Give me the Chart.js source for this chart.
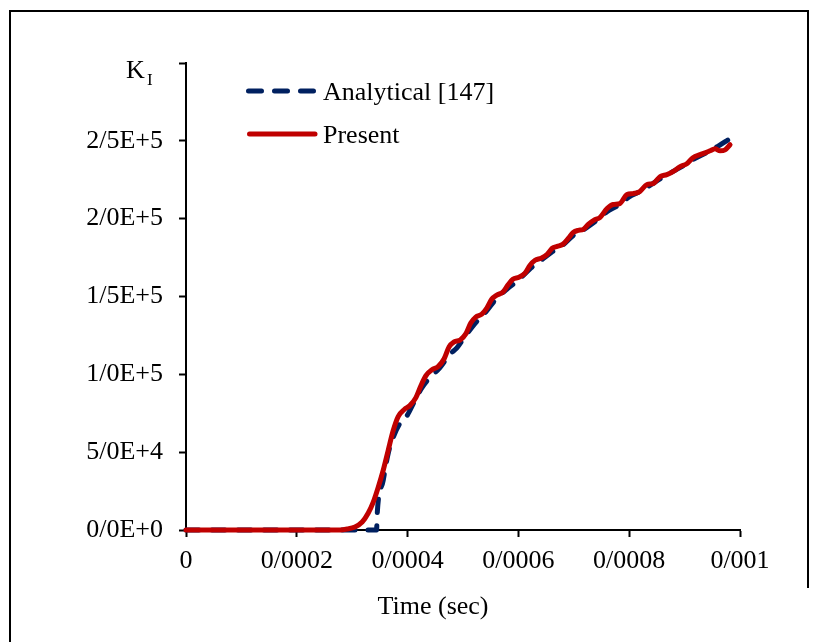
<!DOCTYPE html>
<html>
<head>
<meta charset="utf-8">
<script src="https://cdn.jsdelivr.net/npm/chart.js@4.4.1/dist/chart.umd.min.js"></script>
<style>
  html, body { margin: 0; padding: 0; background: #fff; }
  #wrap { width: 819px; height: 642px; }
</style>
</head>
<body>
<div id="wrap"><canvas id="kiChart" width="819" height="642"></canvas></div>
<script>
// data
const timePresent = [0, 0.000278, 0.000291, 0.000305, 0.000318, 0.000329, 0.000338, 0.000347, 0.000356, 0.000365,
  0.000374, 0.000383, 0.000394, 0.000404, 0.000415, 0.000424, 0.000433, 0.000444, 0.000455, 0.000466,
  0.000475, 0.000484, 0.000495, 0.000505, 0.000514, 0.000523, 0.000534, 0.000543, 0.000552, 0.000561,
  0.000572, 0.000581, 0.000590, 0.000601, 0.000612, 0.000621, 0.000630, 0.000641, 0.000652, 0.000661,
  0.000670, 0.000680, 0.000690, 0.000699, 0.000708, 0.000717, 0.000726, 0.000738, 0.000747, 0.000760,
  0.000771, 0.000783, 0.000796, 0.000807, 0.000819, 0.000832, 0.000843, 0.000856, 0.000868, 0.000879,
  0.000892, 0.000904, 0.000915, 0.000928, 0.000937, 0.000946, 0.000955, 0.000964, 0.000973, 0.000982];
const kiPresent = [0, 0, 600, 1900, 5100, 10900, 17900, 27500, 38400, 51200,
  63900, 72900, 77400, 79900, 85000, 92700, 99100, 102900, 104900, 110000,
  117700, 120800, 122100, 126000, 133000, 136800, 138700, 142600, 148300, 150900,
  152800, 157300, 161100, 162400, 165000, 170100, 173300, 174600, 177100, 181000,
  182200, 183500, 187300, 191200, 192500, 193100, 196300, 199400, 200700, 206500,
  209100, 209700, 215500, 216100, 217400, 221900, 222500, 227000, 228300, 230200,
  233400, 235300, 239100, 241100, 242300, 243600, 244900, 243600, 244200, 247500];

const timeAnalytical = [0, 0.000344, 0.000345, 0.000356, 0.000365, 0.000374, 0.000386, 0.000399, 0.000413, 0.000426,
  0.000440, 0.000458, 0.000477, 0.000489, 0.000500, 0.000520, 0.000540, 0.000560, 0.000580, 0.000600,
  0.000620, 0.000640, 0.000660, 0.000680, 0.000700, 0.000720, 0.000740, 0.000760, 0.000780, 0.000800,
  0.000820, 0.000840, 0.000860, 0.000880, 0.000900, 0.000920, 0.000940, 0.000960, 0.000980];
const kiAnalytical = [0, 0, 9600, 32000, 49200, 59500, 68400, 73500, 83100, 91400,
  97800, 104200, 113200, 117000, 122500, 132000, 139500, 148500, 155000, 160500,
  167500, 173000, 178500, 183000, 189500, 193500, 198500, 204500, 208500, 214000,
  217500, 222000, 226500, 230500, 234500, 239000, 242500, 246500, 251000];

const xTickValues = [0, 0.0002, 0.0004, 0.0006, 0.0008, 0.001];
const xTickLabels = ["0", "0/0002", "0/0004", "0/0006", "0/0008", "0/001"];
const yTickValues = [0, 50000, 100000, 150000, 200000, 250000, 300000];
const yTickLabels = ["0/0E+0", "5/0E+4", "1/0E+5", "1/5E+5", "2/0E+5", "2/5E+5", ""];

const serif = '"Liberation Serif", "Times New Roman", serif';
const blue = "#002060";
const red = "#c00000";

// frame, legend and axis captions
const overlay = {
  id: "overlay",
  beforeDraw(chart) {
    const c = chart.ctx;
    c.save();
    c.fillStyle = "#fff";
    c.fillRect(0, 0, chart.width, chart.height);
    c.restore();
  },
  afterDraw(chart) {
    const c = chart.ctx;
    c.save();
    c.strokeStyle = "#000";
    c.lineWidth = 2;
    c.beginPath();
    c.moveTo(10, 642);
    c.lineTo(10, 11);
    c.lineTo(808, 11);
    c.lineTo(808, 588);
    c.stroke();

    c.lineCap = "round";
    c.lineWidth = 5;
    c.strokeStyle = blue;
    c.setLineDash([13, 13]);
    c.beginPath();
    c.moveTo(248.5, 91);
    c.lineTo(314, 91);
    c.stroke();
    c.setLineDash([]);
    c.strokeStyle = red;
    c.beginPath();
    c.moveTo(249.5, 134);
    c.lineTo(315, 134);
    c.stroke();

    c.fillStyle = "#000";
    c.font = "26px " + serif;
    c.textBaseline = "alphabetic";
    c.textAlign = "left";
    c.fillText("Analytical [147]", 323, 100);
    c.fillText("Present", 323, 143);
    c.fillText("K", 126, 78);
    c.font = "17px " + serif;
    c.fillText("I", 147, 85);
    c.font = "26px " + serif;
    c.textAlign = "center";
    c.fillText("Time (sec)", 433, 614);
    c.restore();
  },
};

const ctx = document.getElementById("kiChart");

const kiChart = new Chart(ctx, {
  type: "line",
  data: {
    datasets: [
      {
        label: "Present",
        data: timePresent.map((t, i) => ({ x: t, y: kiPresent[i] })),
        borderColor: red,
        borderWidth: 5,
        borderCapStyle: "round",
        borderJoinStyle: "round",
        pointRadius: 0,
        cubicInterpolationMode: "monotone",
        clip: false,
        order: 0,
      },
      {
        label: "Analytical [147]",
        data: timeAnalytical.map((t, i) => ({ x: t, y: kiAnalytical[i] })),
        borderColor: blue,
        borderWidth: 5,
        borderDash: [13, 13],
        borderCapStyle: "round",
        pointRadius: 0,
        cubicInterpolationMode: "monotone",
        clip: false,
        order: 1,
      },
    ],
  },
  options: {
    responsive: false,
    animation: false,
    devicePixelRatio: 1,
    layout: { padding: { left: 0, top: 63, right: 79, bottom: 0 } },
    plugins: {
      legend: { display: false },
      tooltip: { enabled: false },
    },
    scales: {
      x: {
        type: "linear",
        min: 0,
        max: 0.001,
        afterBuildTicks: (scale) => {
          scale.ticks = xTickValues.map((v) => ({ value: v }));
        },
        afterFit: (scale) => {
          scale.height = 112;
        },
        ticks: {
          autoSkip: false,
          maxRotation: 0,
          padding: 9,
          color: "#000",
          font: { family: serif, size: 26 },
          callback: (value, index) => xTickLabels[index],
        },
        grid: { drawOnChartArea: false, drawTicks: true, tickLength: 7, tickWidth: 2, tickColor: "#000" },
        border: { display: true, color: "#000", width: 2 },
      },
      y: {
        type: "linear",
        min: 0,
        max: 300000,
        afterBuildTicks: (scale) => {
          scale.ticks = yTickValues.map((v) => ({ value: v }));
        },
        afterFit: (scale) => {
          scale.width = 186;
        },
        ticks: {
          autoSkip: false,
          padding: 16,
          color: "#000",
          font: { family: serif, size: 26 },
          callback: (value, index) => yTickLabels[index],
        },
        grid: { drawOnChartArea: false, drawTicks: true, tickLength: 7, tickWidth: 2, tickColor: "#000" },
        border: { display: true, color: "#000", width: 2 },
      },
    },
  },
  plugins: [overlay],
});
</script>
</body>
</html>
